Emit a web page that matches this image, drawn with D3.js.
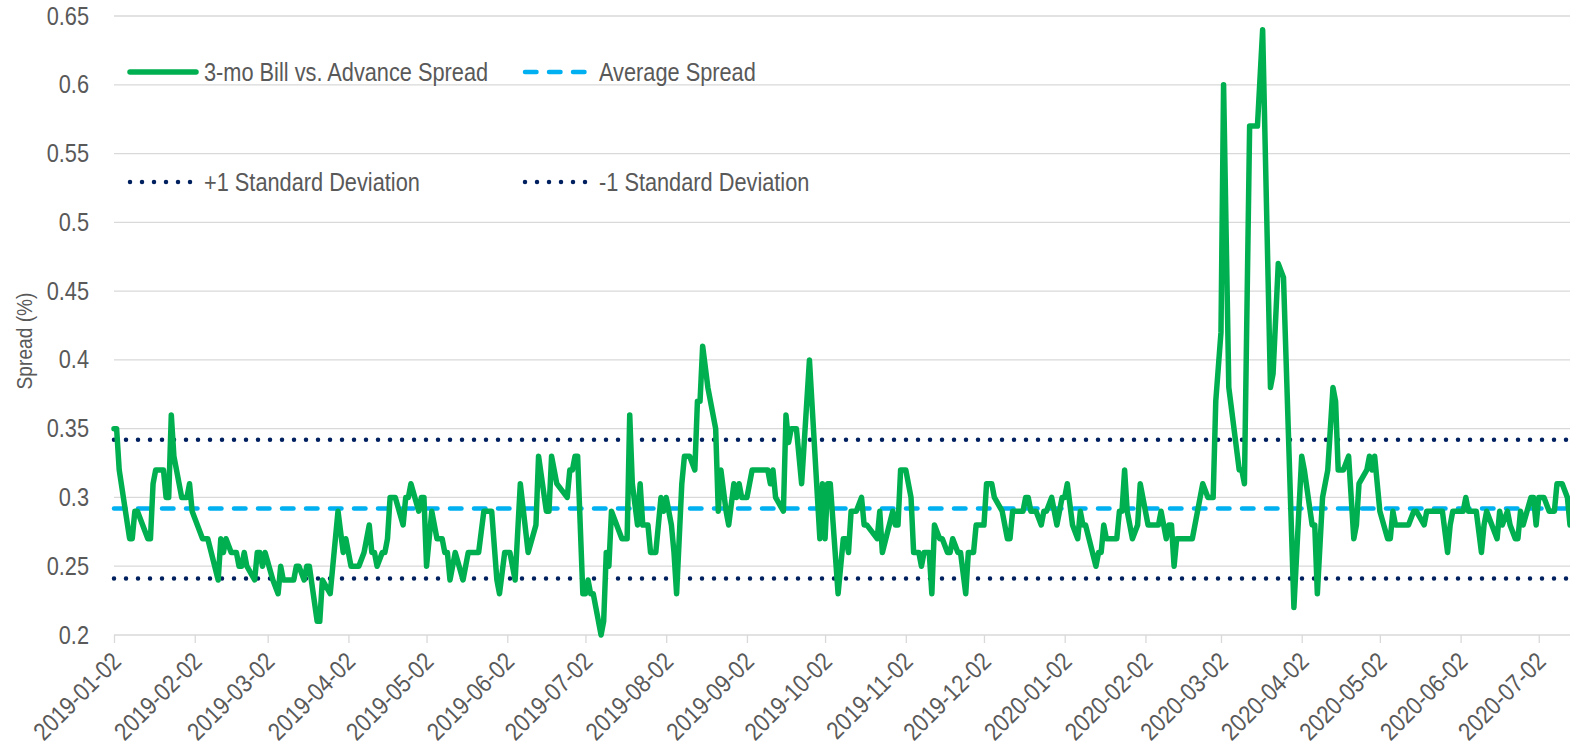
<!DOCTYPE html>
<html>
<head>
<meta charset="utf-8">
<script src="https://cdnjs.cloudflare.com/ajax/libs/d3/7.8.5/d3.min.js"></script>
<style>
	body {margin: 0; background: #fff;}
	svg text {font-family: "Liberation Sans", Arial, sans-serif; fill: #595959;}
	.grid {stroke: #d9d9d9; stroke-width: 1.3;}
	.spread {fill: none; stroke: #00b050; stroke-width: 5.5; stroke-linejoin: round; stroke-linecap: round;}
	.avg {stroke: #00b0f0; stroke-width: 4.5; stroke-dasharray: 11.5 12.5; stroke-linecap: round;}
	.sd {stroke: #002060; stroke-width: 4.5; stroke-dasharray: 0.01 11.99; stroke-linecap: round;}
</style>
</head>
<body>
<div class="chart"></div>
<script>
var startDate = '2019-01-02';
var endDay = 559;

// business days since 2019-01-02
var spreadDays = [0, 1, 2, 6, 7, 8, 9, 13, 14, 15, 16, 19, 20, 21, 22, 23, 26, 28, 29, 30, 32, 34, 36, 40, 41, 42, 43, 45, 47, 48, 49, 50, 51, 54, 55, 56, 57, 58, 61, 63, 64, 65, 69, 70, 71, 73, 74, 75, 78, 79, 80, 83, 84, 86, 88, 89, 91, 94, 96, 98, 99, 100, 101, 103, 104, 105, 106, 108, 111, 112, 113, 114, 117, 118, 119, 120, 122, 124, 126, 127, 128, 129, 131, 134, 136, 140, 142, 145, 147, 148, 150, 152, 154, 156, 159, 162, 163, 166, 167, 168, 170, 174, 175, 176, 177, 178, 180, 181, 182, 183, 184, 185, 187, 188, 189, 190, 191, 195, 197, 198, 199, 201, 202, 203, 205, 206, 208, 210, 211, 212, 214, 215, 216, 218, 219, 221, 223, 224, 225, 226, 228, 231, 232, 233, 235, 236, 238, 239, 240, 241, 243, 245, 251, 252, 253, 254, 257, 258, 259, 260, 262, 264, 267, 271, 272, 273, 274, 275, 278, 280, 281, 282, 283, 285, 287, 288, 289, 293, 294, 295, 299, 300, 301, 302, 304, 306, 307, 309, 310, 311, 313, 314, 315, 317, 318, 320, 321, 322, 324, 325, 327, 328, 330, 331, 334, 335, 337, 338, 341, 343, 344, 345, 349, 350, 351, 352, 354, 356, 357, 358, 360, 361, 362, 364, 365, 366, 368, 370, 371, 372, 373, 377, 378, 379, 380, 381, 385, 386, 387, 388, 389, 391, 393, 394, 397, 401, 402, 404, 405, 406, 407, 408, 414, 416, 418, 420, 422, 423, 425, 426, 428, 432, 433, 434, 436, 439, 441, 444, 445, 447, 449, 453, 456, 457, 460, 461, 462, 464, 466, 468, 469, 470, 472, 474, 476, 477, 478, 481, 482, 483, 484, 486, 489, 490, 491, 492, 497, 499, 500, 503, 504, 510, 512, 513, 514, 518, 519, 520, 523, 525, 526, 527, 529, 531, 532, 533, 535, 536, 538, 539, 540, 541, 544, 545, 546, 547, 549, 551, 553, 554, 556, 558, 559];

var spreadValues = [0.35, 0.35, 0.32, 0.27, 0.27, 0.29, 0.29, 0.27, 0.27, 0.31, 0.32, 0.32, 0.30, 0.30, 0.36, 0.33, 0.30, 0.30, 0.31, 0.29, 0.28, 0.27, 0.27, 0.24, 0.27, 0.26, 0.27, 0.26, 0.26, 0.25, 0.25, 0.26, 0.25, 0.24, 0.26, 0.26, 0.25, 0.26, 0.24, 0.23, 0.25, 0.24, 0.24, 0.25, 0.25, 0.24, 0.25, 0.25, 0.21, 0.21, 0.24, 0.23, 0.25, 0.29, 0.26, 0.27, 0.25, 0.25, 0.26, 0.28, 0.26, 0.26, 0.25, 0.26, 0.26, 0.27, 0.30, 0.30, 0.28, 0.30, 0.30, 0.31, 0.29, 0.30, 0.30, 0.25, 0.29, 0.27, 0.27, 0.26, 0.26, 0.24, 0.26, 0.24, 0.26, 0.26, 0.29, 0.29, 0.24, 0.23, 0.26, 0.26, 0.24, 0.31, 0.26, 0.28, 0.33, 0.29, 0.29, 0.33, 0.31, 0.30, 0.32, 0.32, 0.33, 0.33, 0.23, 0.23, 0.24, 0.23, 0.23, 0.22, 0.20, 0.21, 0.26, 0.25, 0.29, 0.27, 0.27, 0.36, 0.31, 0.28, 0.31, 0.28, 0.28, 0.26, 0.26, 0.30, 0.29, 0.30, 0.28, 0.26, 0.23, 0.31, 0.33, 0.33, 0.32, 0.37, 0.37, 0.41, 0.38, 0.35, 0.29, 0.32, 0.29, 0.28, 0.31, 0.30, 0.31, 0.30, 0.30, 0.32, 0.32, 0.31, 0.32, 0.30, 0.29, 0.36, 0.34, 0.35, 0.35, 0.31, 0.40, 0.27, 0.31, 0.27, 0.31, 0.31, 0.23, 0.27, 0.27, 0.26, 0.29, 0.29, 0.30, 0.28, 0.28, 0.27, 0.29, 0.26, 0.29, 0.28, 0.28, 0.32, 0.32, 0.30, 0.26, 0.26, 0.25, 0.26, 0.26, 0.23, 0.28, 0.27, 0.27, 0.26, 0.26, 0.27, 0.26, 0.26, 0.23, 0.26, 0.26, 0.28, 0.28, 0.31, 0.31, 0.30, 0.29, 0.27, 0.27, 0.29, 0.29, 0.30, 0.30, 0.29, 0.29, 0.28, 0.29, 0.29, 0.30, 0.29, 0.28, 0.30, 0.30, 0.31, 0.28, 0.27, 0.29, 0.28, 0.28, 0.25, 0.26, 0.26, 0.28, 0.27, 0.27, 0.29, 0.29, 0.32, 0.29, 0.27, 0.28, 0.31, 0.28, 0.28, 0.29, 0.27, 0.28, 0.28, 0.25, 0.27, 0.27, 0.29, 0.31, 0.30, 0.30, 0.37, 0.42, 0.60, 0.38, 0.32, 0.32, 0.31, 0.57, 0.57, 0.64, 0.38, 0.39, 0.47, 0.46, 0.22, 0.33, 0.32, 0.28, 0.28, 0.23, 0.30, 0.32, 0.38, 0.37, 0.32, 0.32, 0.33, 0.27, 0.28, 0.31, 0.32, 0.33, 0.32, 0.33, 0.29, 0.27, 0.27, 0.29, 0.28, 0.28, 0.29, 0.29, 0.28, 0.29, 0.29, 0.26, 0.28, 0.29, 0.29, 0.30, 0.29, 0.29, 0.26, 0.28, 0.29, 0.28, 0.27, 0.29, 0.28, 0.29, 0.28, 0.27, 0.27, 0.29, 0.28, 0.30, 0.30, 0.28, 0.30, 0.30, 0.29, 0.29, 0.31, 0.31, 0.30, 0.28];

var averageSpread = 0.292;
var plusOneSD = 0.342;
var minusOneSD = 0.241;

var yTicks = [0.2, 0.25, 0.3, 0.35, 0.4, 0.45, 0.5, 0.55, 0.6, 0.65];
var xTicks = ['2019-01-02', '2019-02-02', '2019-03-02', '2019-04-02', '2019-05-02', '2019-06-02', '2019-07-02', '2019-08-02', '2019-09-02', '2019-10-02', '2019-11-02', '2019-12-02', '2020-01-02', '2020-02-02', '2020-03-02', '2020-04-02', '2020-05-02', '2020-06-02', '2020-07-02'];

var legendLabels = ['3-mo Bill vs. Advance Spread', 'Average Spread', '+1 Standard Deviation', '-1 Standard Deviation'];
var legendClasses = ['spread', 'avg', 'sd', 'sd'];

Chart = {
	init: function() {
		this.p = {width: 1570, height: 751, left: 114, right: 1570, top: 16, bottom: 635, font: 25, squeeze: 0.87};
		this.svg = d3.select('.chart').append('svg').attr('width', this.p.width).attr('height', this.p.height);
		var parse = d3.utcParse('%Y-%m-%d');
		this.start = parse(startDate);
		this.x = d3.scaleUtc().domain([this.start, d3.utcDay.offset(this.start, endDay)]).range([this.p.left, this.p.right]);
		this.y = d3.scaleLinear().domain([0.2, 0.65]).range([this.p.bottom, this.p.top]);
		this.data = spreadDays.map(function(d, i) {
			return {date: d3.utcDay.offset(Chart.start, d), value: spreadValues[i]};
		});
		this.tickDates = xTicks.map(function(s) { return parse(s); });

		this.drawGrid();
		this.drawAxes();
		this.drawRefLines();
		this.drawLine();
		this.drawLegend();
		this.squeezeText();
	},

	drawGrid: function() {
		var p = this.p, y = this.y;
		this.svg.append('g').selectAll('line').data(yTicks).enter().append('line').attr('class', 'grid')
			.attr('x1', p.left).attr('x2', p.right)
			.attr('y1', function(d) { return y(d); }).attr('y2', function(d) { return y(d); });
	},

	drawAxes: function() {
		var p = this.p;
		var xAxis = d3.axisBottom(this.x).tickValues(this.tickDates).tickSize(8).tickPadding(0).tickFormat(d3.utcFormat('%Y-%m-%d'));
		var gx = this.svg.append('g').attr('transform', 'translate(0,' + p.bottom + ')').call(xAxis);
		gx.select('.domain').remove();
		gx.selectAll('.tick line').attr('stroke', '#d9d9d9').attr('stroke-width', 1.3);
		gx.selectAll('.tick text').attr('font-size', p.font).attr('text-anchor', 'end')
			.attr('y', 0).attr('dy', 0)
			.attr('transform', 'translate(8,28) rotate(-45)');

		var yAxis = d3.axisLeft(this.y).tickValues(yTicks).tickSize(0).tickPadding(25).tickFormat(function(d) { return String(+d.toFixed(2)); });
		var gy = this.svg.append('g').attr('transform', 'translate(' + p.left + ',0)').call(yAxis);
		gy.select('.domain').remove();
		gy.selectAll('.tick text').attr('font-size', p.font);

		this.svg.append('text').attr('font-size', 22).attr('text-anchor', 'middle')
			.attr('transform', 'translate(32,341) rotate(-90)')
			.text('Spread (%)');
	},

	drawRefLines: function() {
		var p = this.p, y = this.y;
		var g = this.svg.append('g');
		[[averageSpread, 'avg'], [plusOneSD, 'sd'], [minusOneSD, 'sd']].forEach(function(r) {
			g.append('line').attr('class', r[1]).attr('x1', p.left).attr('x2', p.right).attr('y1', y(r[0])).attr('y2', y(r[0]));
		});
	},

	drawLine: function() {
		var x = this.x, y = this.y, p = this.p;
		this.svg.append('clipPath').attr('id', 'plot').append('rect')
			.attr('x', p.left - 4).attr('y', 0).attr('width', p.right - p.left + 4).attr('height', p.bottom + 10);
		var line = d3.line().x(function(d) { return x(d.date); }).y(function(d) { return y(d.value); });
		this.svg.append('path').datum(this.data).attr('class', 'spread').attr('clip-path', 'url(#plot)').attr('d', line);
	},

	drawLegend: function() {
		var pos = [[128, 72], [523, 72], [128, 182], [523, 182]];
		var g = this.svg.append('g');
		legendLabels.forEach(function(label, i) {
			var x = pos[i][0], y = pos[i][1];
			g.append('line').attr('class', legendClasses[i]).attr('x1', x + 2).attr('x2', x + 68).attr('y1', y).attr('y2', y);
			g.append('text').attr('x', x + 76).attr('y', y).attr('dy', '0.36em').attr('font-size', Chart.p.font).text(label);
		});
	},

	// the source font is a condensed face, so squash every label a bit
	squeezeText: function() {
		var k = this.p.squeeze;
		this.svg.selectAll('text').each(function() {
			var w = this.getComputedTextLength();
			d3.select(this).attr('textLength', w * k).attr('lengthAdjust', 'spacingAndGlyphs');
		});
	}
}

Chart.init();
</script>
</body>
</html>
